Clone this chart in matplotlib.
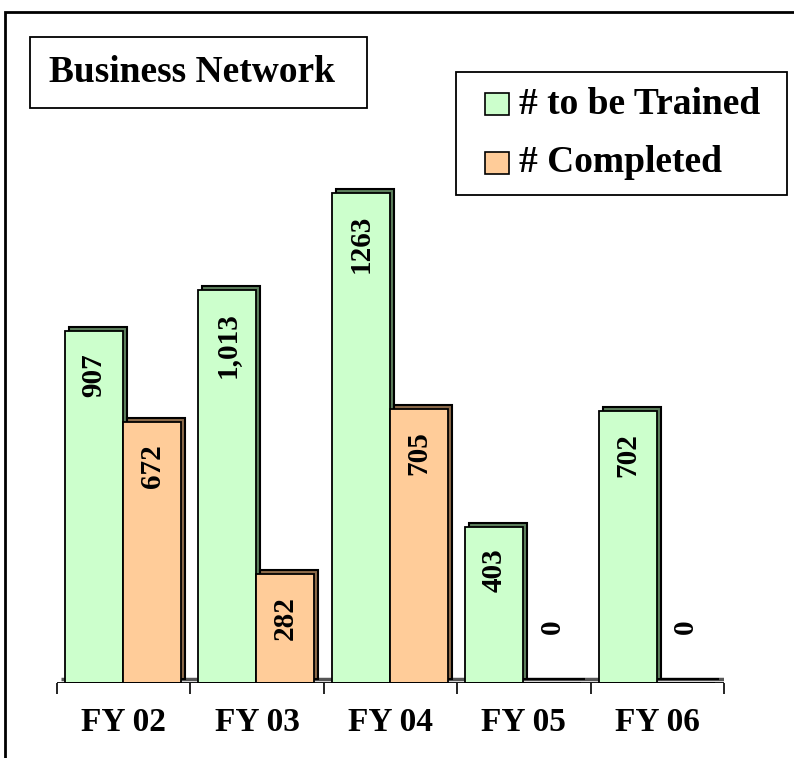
import matplotlib
matplotlib.use("Agg")
import matplotlib.pyplot as plt
import matplotlib.transforms as mtrans
from matplotlib.patches import Rectangle
import numpy as np

# data
years = ["FY 02", "FY 03", "FY 04", "FY 05", "FY 06"]
to_be_trained = [907, 1013, 1263, 403, 702]
completed = [672, 282, 705, 0, 0]
trained_labels = ["907", "1,013", "1263", "403", "702"]
completed_labels = ["672", "282", "705", "0", "0"]

green = "#CCFFCC"
orange = "#FFCC99"
green_side = "#5C7F5C"
orange_side = "#8C6A4A"

plt.rcParams['font.family'] = ['Liberation Serif', 'DejaVu Serif']
plt.rcParams['font.weight'] = 'bold'

W, H = 794, 758
fig = plt.figure(figsize=(W / 100, H / 100), dpi=100)

def fx(px):
    return px / W

def fy(py):
    return 1 - py / H

# plot area
ax = fig.add_axes([fx(57), fy(683), fx(724) - fx(57), 621 / H])
ax.set_xlim(0, 5)
ax.set_ylim(0, 1600)
for s in ax.spines.values():
    s.set_visible(False)
ax.set_yticks([])

# 3d depth offset
dx, dy = 4, 4
shift = ax.transData + mtrans.ScaledTranslation(dx / 100, dy / 100, fig.dpi_scale_trans)

x = np.arange(len(years))
off = 0.06
bw = 0.435

# floor
ax.add_patch(Rectangle((0, 0), 5, 0, transform=shift, facecolor="#999999",
                       edgecolor="#555555", lw=2.5, zorder=1))

# back (side/top) faces
ax.bar(x + off, to_be_trained, bw, align="edge", color=green_side,
       edgecolor="black", lw=1.5, transform=shift, zorder=2)
ax.bar(x + off + bw, completed, bw, align="edge", color=orange_side,
       edgecolor="black", lw=1.5, transform=shift, zorder=2)
# front faces
ax.bar(x + off, to_be_trained, bw, align="edge", color=green,
       edgecolor="black", lw=1.3, zorder=3)
ax.bar(x + off + bw, completed, bw, align="edge", color=orange,
       edgecolor="black", lw=1.3, zorder=3)
ax.axhline(0, color="black", lw=1.3, zorder=4)

# value labels
lab_off = mtrans.offset_copy(ax.transData, fig=fig, x=0, y=-16, units="points")
for i in range(len(years)):
    ax.text(x[i] + off + bw / 2, to_be_trained[i], trained_labels[i],
            rotation=90, ha="center", va="top", fontsize=21,
            fontweight="bold", transform=lab_off, zorder=5)
    if completed[i] > 0:
        ax.text(x[i] + off + bw * 1.5, completed[i], completed_labels[i],
                rotation=90, ha="center", va="top", fontsize=21,
                fontweight="bold", transform=lab_off, zorder=5)
    else:
        ax.text(x[i] + off + bw * 1.5, 145, completed_labels[i],
                rotation=90, ha="center", va="center", fontsize=21,
                fontweight="bold", zorder=5)

# ticks
ax.set_xticks(np.arange(6))
ax.set_xticklabels([])
ax.tick_params(axis="x", which="major", length=8, width=1.2, direction="out")
ax.set_xticks(x + 0.5, minor=True)
ax.set_xticklabels(years, minor=True, fontsize=24, fontweight="bold")
ax.tick_params(axis="x", which="minor", length=0, pad=17)

# outer border
fig.patches.append(Rectangle((fx(5), -0.02), 1.05, fy(12) + 0.02,
                             transform=fig.transFigure, fill=False,
                             edgecolor="black", lw=2))

# title box
fig.patches.append(Rectangle((fx(30), fy(108)), fx(367) - fx(30), fy(37) - fy(108),
                             transform=fig.transFigure, fill=False,
                             edgecolor="black", lw=1.3))
fig.text(fx(192), fy(72), "Business Network", ha="center", va="center",
         fontsize=27, fontweight="bold")

# legend box
fig.patches.append(Rectangle((fx(456), fy(195)), fx(787) - fx(456), fy(72) - fy(195),
                             transform=fig.transFigure, fill=False,
                             edgecolor="black", lw=1.3))
for py, col, txt in [(104, green, "# to be Trained"), (163, orange, "# Completed")]:
    fig.patches.append(Rectangle((fx(485), fy(py + 11)), fx(509) - fx(485), fy(py - 11) - fy(py + 11),
                                 transform=fig.transFigure, facecolor=col,
                                 edgecolor="black", lw=1.2))
    fig.text(fx(519), fy(py), txt, ha="left", va="center",
             fontsize=27, fontweight="bold")

fig.savefig("out.png", dpi=100)
